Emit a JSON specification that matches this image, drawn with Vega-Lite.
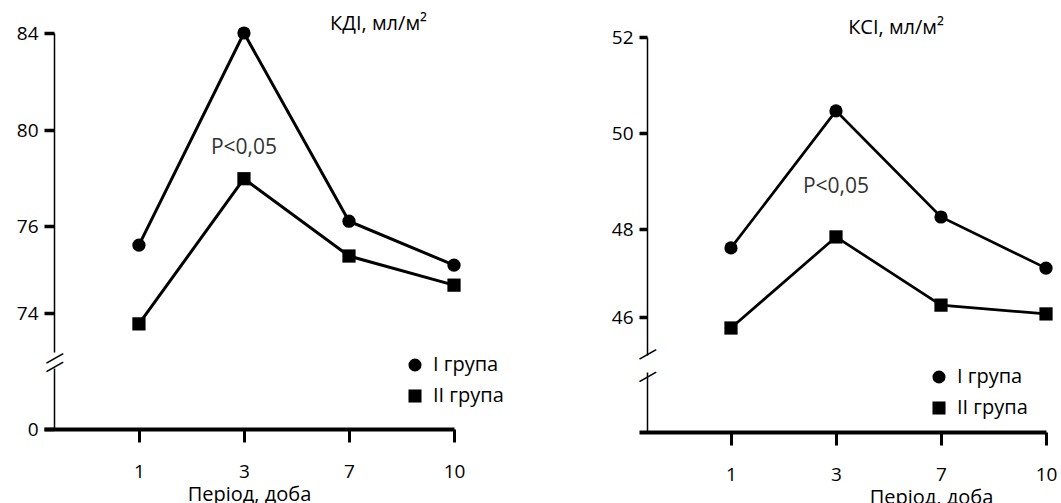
{
  "$schema": "https://vega.github.io/schema/vega-lite/v6.json",
  "padding": {"left": 16, "top": 14, "right": 0, "bottom": 0},
  "autosize": {"type": "pad"},
  "bounds": "flush",
  "spacing": 185,
  "background": "white",
  "config": {
    "font": "Open Sans",
    "view": {"stroke": null},
    "axis": {"grid": false, "labelColor": "black", "titleColor": "black", "domainColor": "black", "tickColor": "black", "labelFont": "Open Sans", "titleFont": "Open Sans"},
    "legend": {"title": null, "labelFont": "Open Sans", "labelFontSize": 20, "labelColor": "black", "symbolSize": 170, "symbolFillColor": "black", "symbolStrokeColor": "black", "symbolStrokeWidth": 0, "rowPadding": 11, "labelOffset": 8, "padding": 0, "orient": "none"},
    "title": {"font": "Open Sans", "fontSize": 20, "fontWeight": "normal", "color": "black", "anchor": "end", "frame": "group", "offset": -10}
  },
  "datasets": {
    "kdi": [
      {"period": "1", "group": "I група", "value": 75.56},
      {"period": "3", "group": "I група", "value": 84.0},
      {"period": "7", "group": "I група", "value": 76.2},
      {"period": "10", "group": "I група", "value": 75.1},
      {"period": "1", "group": "II група", "value": 73.75},
      {"period": "3", "group": "II група", "value": 77.97},
      {"period": "7", "group": "II група", "value": 75.31},
      {"period": "10", "group": "II група", "value": 74.64}
    ],
    "ksi": [
      {"period": "1", "group": "I група", "value": 47.57},
      {"period": "3", "group": "I група", "value": 50.46},
      {"period": "7", "group": "I група", "value": 48.25},
      {"period": "10", "group": "I група", "value": 47.11},
      {"period": "1", "group": "II група", "value": 45.75},
      {"period": "3", "group": "II група", "value": 47.82},
      {"period": "7", "group": "II група", "value": 46.27},
      {"period": "10", "group": "II група", "value": 46.07}
    ],
    "kdi_note": [{"period": "3", "value": 79.25, "label": "P<0,05"}],
    "ksi_note": [{"period": "3", "value": 48.875, "label": "P<0,05"}]
  },
  "hconcat": [
    {
      "width": 410,
      "height": 396,
      "title": {"text": "КДІ, мл/м²", "dx": -27},
      "data": {"name": "kdi"},
      "encoding": {
        "x": {
          "field": "period", "type": "ordinal", "sort": null,
          "scale": {"type": "point", "domain": ["1", "3", "7", "10"], "padding": 0.452, "align": 1},
          "axis": {"title": "Період, доба", "labelAngle": 0, "domainWidth": 4, "domainCap": "butt", "tickSize": 13, "tickWidth": 3, "labelFontSize": 19, "labelPadding": 20, "titleFontSize": 20, "titleFontWeight": "normal", "titlePadding": 3}
        }
      },
      "layer": [
        {
          "mark": {"type": "line", "color": "black", "strokeWidth": 3},
          "encoding": {
            "y": {
              "field": "value", "type": "quantitative",
              "scale": {"domain": [0, 73, 74, 76, 80, 84], "range": [396, 323.5, 280, 193, 97, 0], "nice": false, "zero": false},
              "axis": {"values": [0, 74, 76, 80, 84], "title": null, "offset": -10, "tickSize": 10, "tickWidth": 3.5, "domainWidth": 1.5, "domainDash": [61, 16, 1000], "labelFontSize": 19, "labelPadding": 6, "labelFlush": false, "labelOverlap": false}
            },
            "detail": {"field": "group"}
          }
        },
        {
          "mark": {"type": "point", "filled": true, "color": "black", "size": 175, "opacity": 1},
          "encoding": {
            "y": {"field": "value", "type": "quantitative", "axis": null},
            "shape": {"field": "group", "type": "nominal", "scale": {"domain": ["I група", "II група"], "range": ["circle", "square"]}, "legend": {"legendX": 361, "legendY": 322}}
          }
        },
        {
          "data": {"name": "kdi_note"},
          "mark": {"type": "text", "fontSize": 21, "color": "#333333"},
          "encoding": {
            "y": {
              "field": "value", "type": "quantitative",
              "axis": {"orient": "left", "values": [63.4, 72.0], "labelExpr": "'—'", "title": null, "offset": -10, "ticks": false, "tickSize": 0, "domain": false, "labelAngle": -30, "labelAlign": "center", "labelBaseline": "middle", "labelPadding": 0, "labelFontSize": 21, "labelOverlap": false, "labelFlush": false}
            },
            "text": {"field": "label"}
          }
        }
      ],
      "resolve": {"axis": {"y": "independent"}}
    },
    {
      "width": 407,
      "height": 399,
      "title": {"text": "КСІ, мл/м²", "dx": -102},
      "data": {"name": "ksi"},
      "encoding": {
        "x": {
          "field": "period", "type": "ordinal", "sort": null,
          "scale": {"type": "point", "domain": ["1", "3", "7", "10"], "padding": 0.438, "align": 1},
          "axis": {"title": "Період, доба", "titleX": 292, "labelAngle": 0, "domainWidth": 4, "domainCap": "butt", "tickSize": 13, "tickWidth": 3, "labelFontSize": 19, "labelPadding": 20, "titleFontSize": 20, "titleFontWeight": "normal", "titlePadding": 3}
        }
      },
      "layer": [
        {
          "mark": {"type": "line", "color": "black", "strokeWidth": 2.7},
          "encoding": {
            "y": {
              "field": "value", "type": "quantitative",
              "scale": {"domain": [0, 45, 46, 48, 50, 52], "range": [399, 328, 284, 196, 100, 4], "nice": false, "zero": false},
              "axis": {"values": [46, 48, 50, 52], "title": null, "offset": -8, "tickSize": 8, "tickWidth": 3.5, "domainWidth": 1.5, "domainDash": [60, 17, 1000], "labelFontSize": 19, "labelPadding": 6, "labelFlush": false, "labelOverlap": false}
            },
            "detail": {"field": "group"}
          }
        },
        {
          "mark": {"type": "point", "filled": true, "color": "black", "size": 175, "opacity": 1},
          "encoding": {
            "y": {"field": "value", "type": "quantitative", "axis": null},
            "shape": {"field": "group", "type": "nominal", "scale": {"domain": ["I група", "II група"], "range": ["circle", "square"]}, "legend": {"legendX": 290, "legendY": 334}}
          }
        },
        {
          "data": {"name": "ksi_note"},
          "mark": {"type": "text", "fontSize": 21, "color": "#333333"},
          "encoding": {
            "y": {
              "field": "value", "type": "quantitative",
              "axis": {"orient": "left", "values": [35.49, 45.17], "labelExpr": "'—'", "title": null, "offset": -8, "ticks": false, "tickSize": 0, "domain": false, "labelAngle": -30, "labelAlign": "center", "labelBaseline": "middle", "labelPadding": 0, "labelFontSize": 21, "labelOverlap": false, "labelFlush": false}
            },
            "text": {"field": "label"}
          }
        }
      ],
      "resolve": {"axis": {"y": "independent"}}
    }
  ],
  "resolve": {"scale": {"shape": "independent", "y": "independent", "x": "independent"}, "legend": {"shape": "independent"}}
}
